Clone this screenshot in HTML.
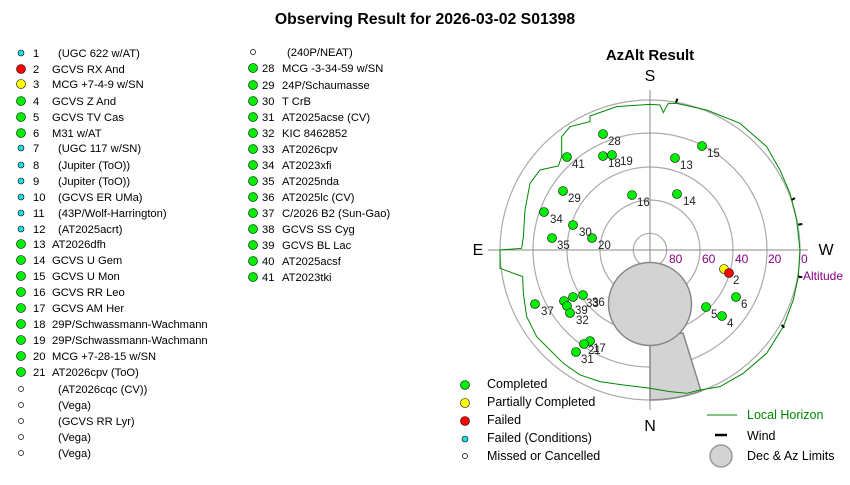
<!DOCTYPE html>
<html><head><style>
body{margin:0;background:#fff;}
svg text{font-family:"Liberation Sans",sans-serif;}
</style></head><body>
<svg width="850" height="480" xmlns="http://www.w3.org/2000/svg">
<rect width="850" height="480" fill="#fff"/>
<text x="425" y="24" font-size="15.8" font-weight="bold" text-anchor="middle">Observing Result for 2026-03-02 S01398</text>
<text x="650" y="60" font-size="15" font-weight="bold" text-anchor="middle">AzAlt Result</text>

<!-- list -->
<g font-size="11.2" fill="#000">
<circle cx="21" cy="53" r="3" fill="#2dd" stroke="#000" stroke-width=".6"/><text x="33" y="57">1</text><text x="58" y="57">(UGC 622 w/AT)</text>
<circle cx="21" cy="69" r="4.5" fill="#f00" stroke="#000" stroke-width=".6"/><text x="33" y="73">2</text><text x="52" y="73">GCVS RX And</text>
<circle cx="21" cy="84" r="4.5" fill="#ff0" stroke="#000" stroke-width=".6"/><text x="33" y="88">3</text><text x="52" y="88">MCG +7-4-9 w/SN</text>
<circle cx="21" cy="101" r="4.5" fill="#0e0" stroke="#000" stroke-width=".6"/><text x="33" y="105">4</text><text x="52" y="105">GCVS Z And</text>
<circle cx="21" cy="117" r="4.5" fill="#0e0" stroke="#000" stroke-width=".6"/><text x="33" y="121">5</text><text x="52" y="121">GCVS TV Cas</text>
<circle cx="21" cy="133" r="4.5" fill="#0e0" stroke="#000" stroke-width=".6"/><text x="33" y="137">6</text><text x="52" y="137">M31 w/AT</text>
<circle cx="21" cy="148" r="3" fill="#2dd" stroke="#000" stroke-width=".6"/><text x="33" y="152">7</text><text x="58" y="152">(UGC 117 w/SN)</text>
<circle cx="21" cy="165" r="3" fill="#2dd" stroke="#000" stroke-width=".6"/><text x="33" y="169">8</text><text x="58" y="169">(Jupiter (ToO))</text>
<circle cx="21" cy="181" r="3" fill="#2dd" stroke="#000" stroke-width=".6"/><text x="33" y="185">9</text><text x="58" y="185">(Jupiter (ToO))</text>
<circle cx="21" cy="197" r="3" fill="#2dd" stroke="#000" stroke-width=".6"/><text x="33" y="201">10</text><text x="58" y="201">(GCVS ER UMa)</text>
<circle cx="21" cy="213" r="3" fill="#2dd" stroke="#000" stroke-width=".6"/><text x="33" y="217">11</text><text x="58" y="217">(43P/Wolf-Harrington)</text>
<circle cx="21" cy="229" r="3" fill="#2dd" stroke="#000" stroke-width=".6"/><text x="33" y="233">12</text><text x="58" y="233">(AT2025acrt)</text>
<circle cx="21" cy="244" r="4.5" fill="#0e0" stroke="#000" stroke-width=".6"/><text x="33" y="248">13</text><text x="52" y="248">AT2026dfh</text>
<circle cx="21" cy="260" r="4.5" fill="#0e0" stroke="#000" stroke-width=".6"/><text x="33" y="264">14</text><text x="52" y="264">GCVS U Gem</text>
<circle cx="21" cy="276" r="4.5" fill="#0e0" stroke="#000" stroke-width=".6"/><text x="33" y="280">15</text><text x="52" y="280">GCVS U Mon</text>
<circle cx="21" cy="292" r="4.5" fill="#0e0" stroke="#000" stroke-width=".6"/><text x="33" y="296">16</text><text x="52" y="296">GCVS RR Leo</text>
<circle cx="21" cy="308" r="4.5" fill="#0e0" stroke="#000" stroke-width=".6"/><text x="33" y="312">17</text><text x="52" y="312">GCVS AM Her</text>
<circle cx="21" cy="324" r="4.5" fill="#0e0" stroke="#000" stroke-width=".6"/><text x="33" y="328">18</text><text x="52" y="328">29P/Schwassmann-Wachmann</text>
<circle cx="21" cy="340" r="4.5" fill="#0e0" stroke="#000" stroke-width=".6"/><text x="33" y="344">19</text><text x="52" y="344">29P/Schwassmann-Wachmann</text>
<circle cx="21" cy="356" r="4.5" fill="#0e0" stroke="#000" stroke-width=".6"/><text x="33" y="360">20</text><text x="52" y="360">MCG +7-28-15 w/SN</text>
<circle cx="21" cy="372" r="4.5" fill="#0e0" stroke="#000" stroke-width=".6"/><text x="33" y="376">21</text><text x="52" y="376">AT2026cpv (ToO)</text>
<circle cx="21" cy="389" r="2.5" fill="#fff" stroke="#000" stroke-width=".7"/><text x="58" y="393">(AT2026cqc (CV))</text>
<circle cx="21" cy="405" r="2.5" fill="#fff" stroke="#000" stroke-width=".7"/><text x="58" y="409">(Vega)</text>
<circle cx="21" cy="421" r="2.5" fill="#fff" stroke="#000" stroke-width=".7"/><text x="58" y="425">(GCVS RR Lyr)</text>
<circle cx="21" cy="437" r="2.5" fill="#fff" stroke="#000" stroke-width=".7"/><text x="58" y="441">(Vega)</text>
<circle cx="21" cy="453" r="2.5" fill="#fff" stroke="#000" stroke-width=".7"/><text x="58" y="457">(Vega)</text>

<circle cx="253" cy="52" r="2.5" fill="#fff" stroke="#000" stroke-width=".7"/><text x="287" y="56">(240P/NEAT)</text>
<circle cx="253" cy="68" r="4.5" fill="#0e0" stroke="#000" stroke-width=".6"/><text x="262" y="72">28</text><text x="282" y="72">MCG -3-34-59 w/SN</text>
<circle cx="253" cy="85" r="4.5" fill="#0e0" stroke="#000" stroke-width=".6"/><text x="262" y="89">29</text><text x="282" y="89">24P/Schaumasse</text>
<circle cx="253" cy="101" r="4.5" fill="#0e0" stroke="#000" stroke-width=".6"/><text x="262" y="105">30</text><text x="282" y="105">T CrB</text>
<circle cx="253" cy="117" r="4.5" fill="#0e0" stroke="#000" stroke-width=".6"/><text x="262" y="121">31</text><text x="282" y="121">AT2025acse (CV)</text>
<circle cx="253" cy="133" r="4.5" fill="#0e0" stroke="#000" stroke-width=".6"/><text x="262" y="137">32</text><text x="282" y="137">KIC 8462852</text>
<circle cx="253" cy="149" r="4.5" fill="#0e0" stroke="#000" stroke-width=".6"/><text x="262" y="153">33</text><text x="282" y="153">AT2026cpv</text>
<circle cx="253" cy="165" r="4.5" fill="#0e0" stroke="#000" stroke-width=".6"/><text x="262" y="169">34</text><text x="282" y="169">AT2023xfi</text>
<circle cx="253" cy="181" r="4.5" fill="#0e0" stroke="#000" stroke-width=".6"/><text x="262" y="185">35</text><text x="282" y="185">AT2025nda</text>
<circle cx="253" cy="197" r="4.5" fill="#0e0" stroke="#000" stroke-width=".6"/><text x="262" y="201">36</text><text x="282" y="201">AT2025lc (CV)</text>
<circle cx="253" cy="213" r="4.5" fill="#0e0" stroke="#000" stroke-width=".6"/><text x="262" y="217">37</text><text x="282" y="217">C/2026 B2 (Sun-Gao)</text>
<circle cx="253" cy="229" r="4.5" fill="#0e0" stroke="#000" stroke-width=".6"/><text x="262" y="233">38</text><text x="282" y="233">GCVS SS Cyg</text>
<circle cx="253" cy="245" r="4.5" fill="#0e0" stroke="#000" stroke-width=".6"/><text x="262" y="249">39</text><text x="282" y="249">GCVS BL Lac</text>
<circle cx="253" cy="261" r="4.5" fill="#0e0" stroke="#000" stroke-width=".6"/><text x="262" y="265">40</text><text x="282" y="265">AT2025acsf</text>
<circle cx="253" cy="277" r="4.5" fill="#0e0" stroke="#000" stroke-width=".6"/><text x="262" y="281">41</text><text x="282" y="281">AT2023tki</text>
</g>

<!-- polar -->
<g fill="none" stroke="#aaa" stroke-width="1.2">
<circle cx="650" cy="250" r="150"/><circle cx="650" cy="250" r="117"/><circle cx="650" cy="250" r="83"/><circle cx="650" cy="250" r="50"/><circle cx="650" cy="250" r="16.7"/>
</g>
<line x1="650" y1="90" x2="650" y2="410" stroke="#888"/>
<line x1="488" y1="250" x2="808" y2="250" stroke="#888"/>
<path d="M650,337 L683,333 L701,391 A150,150 0 0 1 650,400 Z" fill="#d3d3d3" stroke="#888" stroke-width="1.5"/>
<circle cx="650" cy="304" r="41.5" fill="#d3d3d3" stroke="#888" stroke-width="1.5"/>
<g transform="translate(490,60) scale(0.3333)">
<polyline fill="none" stroke="#080" stroke-width="3" points="480,133 510,135 520,158 535,130 560,130 650,150 750,190 830,260 870,330 900,400 920,480 930,570 925,650 910,720 880,800 830,880 760,940 690,980 630,990 590,1000 540,995 480,985 400,975 330,965 270,945 220,910 180,870 140,830 110,770 100,700 98,650 30,625 30,570 95,565 100,530 105,450 120,370 150,330 205,318 215,290 215,230 240,200 300,185 300,168 380,140 480,133"/>
<g stroke="#000" stroke-width="6">
<line x1="558" y1="128" x2="562" y2="116"/><line x1="905" y1="420" x2="915" y2="414"/><line x1="925" y1="494" x2="937" y2="492"/><line x1="925" y1="650" x2="937" y2="652"/><line x1="875" y1="795" x2="883" y2="803"/>
</g>
</g>
<text x="650" y="81" font-size="16" text-anchor="middle">S</text>
<text x="650" y="431" font-size="16" text-anchor="middle">N</text>
<text x="478" y="255" font-size="16" text-anchor="middle">E</text>
<text x="826" y="255" font-size="16" text-anchor="middle">W</text>
<g font-size="12" fill="#808">
<text x="669" y="263">80</text><text x="702" y="263">60</text><text x="735" y="263">40</text><text x="768" y="263">20</text><text x="801" y="263">0</text>
<text x="803" y="280">Altitude</text>
</g>
<g stroke="#000" stroke-width=".6" fill="#0e0">
<circle cx="603" cy="134" r="4.5"/><circle cx="702" cy="146" r="4.5"/><circle cx="567" cy="157" r="4.5"/><circle cx="603" cy="156" r="4.5"/><circle cx="612" cy="155" r="4.5"/><circle cx="675" cy="158" r="4.5"/><circle cx="563" cy="191" r="4.5"/><circle cx="632" cy="195" r="4.5"/><circle cx="677" cy="194" r="4.5"/><circle cx="544" cy="212" r="4.5"/><circle cx="573" cy="225" r="4.5"/><circle cx="592" cy="238" r="4.5"/><circle cx="552" cy="238" r="4.5"/>
<circle cx="736" cy="297" r="4.5"/><circle cx="706" cy="307" r="4.5"/><circle cx="722" cy="316" r="4.5"/>
<circle cx="583" cy="295" r="4.5"/><circle cx="573" cy="297" r="4.5"/><circle cx="564" cy="301" r="4.5"/><circle cx="567" cy="306" r="4.5"/><circle cx="570" cy="313" r="4.5"/><circle cx="535" cy="304" r="4.5"/>
<circle cx="590" cy="341" r="4.5"/><circle cx="584" cy="344" r="4.5"/><circle cx="576" cy="352" r="4.5"/>
<circle cx="724" cy="269" r="4.5" fill="#ff0"/><circle cx="729" cy="273" r="4.5" fill="#f00"/>
</g>
<g font-size="11.5" fill="#222">
<text x="608" y="145">28</text><text x="707" y="157">15</text><text x="572" y="168">41</text><text x="608" y="167">18</text><text x="620" y="165">19</text><text x="680" y="169">13</text><text x="568" y="202">29</text><text x="637" y="206">16</text><text x="683" y="205">14</text><text x="550" y="223">34</text><text x="579" y="236">30</text><text x="598" y="249">20</text><text x="557" y="249">35</text>
<text x="733" y="284">2</text><text x="741" y="308">6</text><text x="711" y="318">5</text><text x="727" y="327">4</text>
<text x="586" y="307">33</text><text x="592" y="306">36</text><text x="575" y="314">39</text><text x="576" y="324">32</text><text x="541" y="315">37</text><text x="593" y="352">17</text><text x="588" y="354">21</text><text x="581" y="363">31</text>
</g>

<!-- legend -->
<g font-size="12.5" fill="#000">
<circle cx="465" cy="385" r="4.5" fill="#0e0" stroke="#000" stroke-width=".6"/><text x="487" y="388">Completed</text>
<circle cx="465" cy="403" r="4.5" fill="#ff0" stroke="#000" stroke-width=".6"/><text x="487" y="406">Partially Completed</text>
<circle cx="465" cy="421" r="4.5" fill="#f00" stroke="#000" stroke-width=".6"/><text x="487" y="424">Failed</text>
<circle cx="465" cy="439" r="3" fill="#2dd" stroke="#000" stroke-width=".6"/><text x="487" y="442">Failed (Conditions)</text>
<circle cx="465" cy="456" r="2.5" fill="#fff" stroke="#000" stroke-width=".7"/><text x="487" y="460">Missed or Cancelled</text>
<line x1="707" y1="415" x2="737" y2="415" stroke="#080"/><text x="747" y="419" fill="#080">Local Horizon</text>
<line x1="715" y1="435" x2="727" y2="435" stroke="#000" stroke-width="2.5"/><text x="747" y="440">Wind</text>
<circle cx="721" cy="456" r="11" fill="#d3d3d3" stroke="#999" stroke-width="1.5"/><text x="747" y="460">Dec &amp; Az Limits</text>
</g>
</svg>
</body></html>
